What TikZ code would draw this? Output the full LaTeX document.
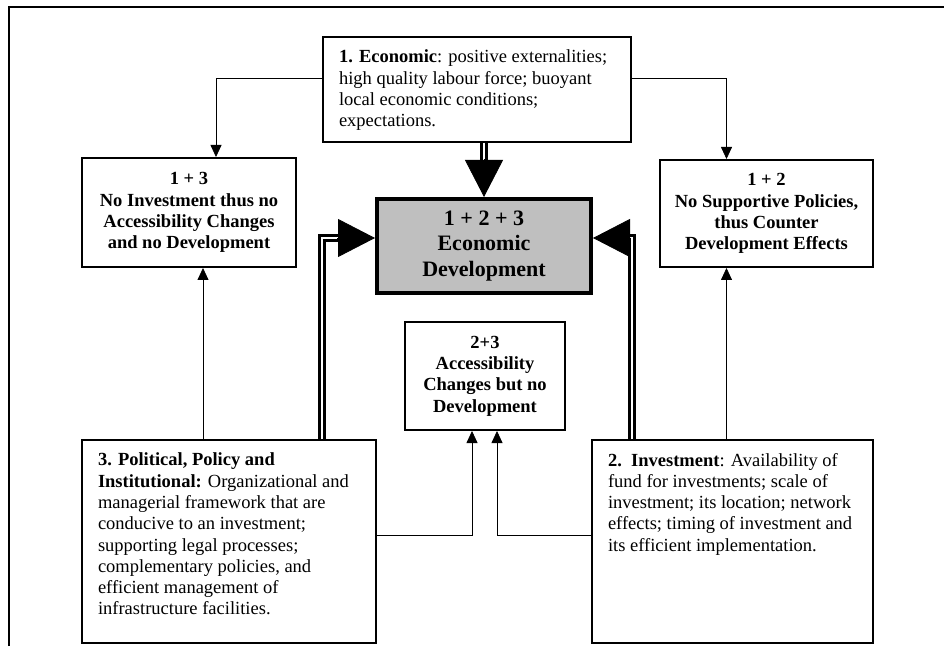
\documentclass[tikz,border=0pt]{standalone}
\usepackage{fontspec}
\setmainfont{Liberation Serif}
\usepackage{tikz}
\usetikzlibrary{arrows.meta}
\tikzset{
  box/.style     = {rectangle, draw=black, line width=2pt, fill=white,
                    inner sep=0pt, align=center,
                    font=\bfseries\fontsize{18.5}{21.3}\selectfont},
  combo/.style   = {box, minimum width=214pt, minimum height=109pt},
  core/.style    = {box, line width=4pt, fill=black!25, minimum width=214pt,
                    minimum height=94pt, font=\bfseries\fontsize{22}{25.5}\selectfont},
  factor/.style  = {box, align=left, inner xsep=16pt, inner ysep=13pt,
                    font=\fontsize{18.5}{21.3}\selectfont},
  frame/.style   = {line width=2.5pt},
  thinarr/.style = {-{Triangle[length=12pt,width=11pt]}, line width=0.8pt},
  shaft/.style   = {line width=3.6pt, double=white, double distance=1.6pt},
  bighead/.style = {-{Triangle[length=37pt,width=38pt]}, line width=0.8pt},
}

\begin{document}
\begin{tikzpicture}[x=1pt, y=1pt]
  \useasboundingbox (0,0) rectangle (944,646);
  \draw[frame] (9,0) |- (944,639);

  % the three factors
  \node[factor] (eco) at (477,556.5)
       {\parbox[c][79pt][t]{276pt}{\raggedright
        \textbf{1. Economic}: positive externalities;\\
        high quality labour force; buoyant\\
        local economic conditions;\\
        expectations.}};
  \node[factor] (policy) at (229,104.5)
       {\parbox[c][177pt][t]{262pt}{\raggedright
        \textbf{3. Political, Policy and}\\
        \textbf{Institutional:} Organizational and\\
        managerial framework that are\\
        conducive to an investment;\\
        supporting legal processes;\\
        complementary policies, and\\
        efficient management of\\
        infrastructure facilities.}};
  \node[factor] (invest) at (732.5,104.5)
       {\parbox[c][177pt][t]{249pt}{\raggedright
        \textbf{2.\ \ Investment}: Availability of\\
        fund for investments; scale of\\
        investment; its location; network\\
        effects; timing of investment and\\
        its efficient implementation.}};

  % combinations
  \node[core] (dev) at (484,400) {1 + 2 + 3\\ Economic\\ Development};
  \node[combo] (noinv) at (189,433.5)
       {1 + 3\\ No Investment thus no\\ Accessibility Changes\\ and no Development};
  \node[combo, minimum width=213pt, minimum height=107pt] (nopol) at (766.5,432.5)
       {1 + 2\\ No Supportive Policies,\\ thus Counter\\ Development Effects};
  \node[combo, minimum width=160pt, minimum height=108pt] (access) at (485,270)
       {2+3\\ Accessibility\\ Changes but no\\ Development};

  % thin connectors
  \draw[thinarr] ([yshift=11.5pt]eco.west) -| ([xshift=27pt]noinv.north);
  \draw[thinarr] ([yshift=11.5pt]eco.east) -| ([xshift=-40pt]nopol.north);
  \draw[thinarr] ([xshift=-26pt]policy.north) -- ([xshift=-26pt]policy.north |- noinv.south);
  \draw[thinarr] ([xshift=-6pt]invest.north) -- ([xshift=-6pt]invest.north |- nopol.south);
  \draw[thinarr] ([yshift=6.5pt]policy.east) -| ([xshift=-13pt]access.south);
  \draw[thinarr] ([yshift=6.5pt]invest.west) -| ([xshift=12pt]access.south);

  % thick connectors into economic development
  \draw[shaft] (dev.north |- eco.south) -- ([yshift=36pt]dev.north);
  \draw[bighead] ([yshift=38pt]dev.north) -- (dev.north);
  \draw[shaft] ([xshift=93pt]policy.north) |- ([xshift=-36pt,yshift=8pt]dev.west);
  \draw[bighead] ([xshift=-38pt,yshift=8pt]dev.west) -- ([yshift=8pt]dev.west);
  \draw[shaft] ([xshift=-100.5pt]invest.north) |- ([xshift=36pt,yshift=8pt]dev.east);
  \draw[bighead] ([xshift=38pt,yshift=8pt]dev.east) -- ([yshift=8pt]dev.east);

\end{tikzpicture}
\end{document}
